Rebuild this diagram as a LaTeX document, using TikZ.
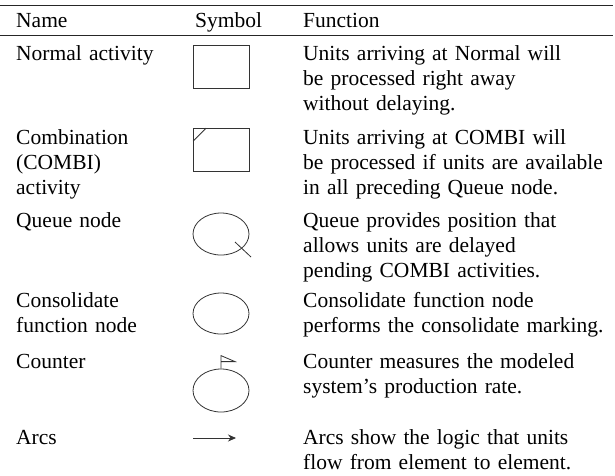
\documentclass[tikz,border=0pt]{standalone}
\usepackage{fontspec}
\setmainfont{Liberation Serif}
\usetikzlibrary{shapes.geometric,arrows.meta}
\tikzset{
  txt/.style={anchor=base west, inner sep=0pt, align=left, font=\fontsize{21.5}{25}\selectfont},
  namecol/.style={txt, text width=170pt},
  funccol/.style={txt, text width=305pt},
  rulebar/.style={line width=0.9pt, draw=black!85},
  sym/.style={draw=black!80, line width=0.8pt, inner sep=0pt},
  boxsym/.style={sym, rectangle, minimum width=56pt, minimum height=43pt},
  ellsym/.style={sym, ellipse, minimum width=56pt, minimum height=42pt},
  symline/.style={draw=black!80, line width=0.8pt},
}
\begin{document}
\begin{tikzpicture}[x=1pt,y=-1pt]
\useasboundingbox (0,0) rectangle (615,475);
% rules
\coordinate (r1a) at (0,5); \coordinate (r1b) at (613,5);
\coordinate (r2a) at (0,35.5); \coordinate (r2b) at (613,35.5);
\draw[rulebar] (r1a) -- (r1b);
\draw[rulebar] (r2a) -- (r2b);
% header
\node[txt] (hname) at (16,27) {Name};
\node[txt] (hsym) at (195,27) {Symbol};
\node[txt] (hfunc) at (303,27) {Function};
% row 1
\node[namecol] (n1) at (16,60) {Normal activity};
\node[boxsym] (s1) at (221,66.5) {};
\node[funccol] (f1) at (303,60) {Units arriving at Normal will\\be processed right away\\without delaying.};
% row 2
\node[namecol] (n2) at (16,144) {Combination\\(COMBI)\\activity};
\node[boxsym] (s2) at (221.5,150) {};
\coordinate (d2a) at ([yshift=-13pt]s2.north west);
\coordinate (d2b) at ([xshift=13pt]s2.north west);
\draw[symline] (d2a) -- (d2b);
\node[funccol] (f2) at (303,144) {Units arriving at COMBI will\\be processed if units are available\\in all preceding Queue node.};
% row 3
\node[namecol] (n3) at (16,227) {Queue node};
\node[ellsym] (s3) at (221,234) {};
\coordinate (q3a) at ([shift={(14pt,-8pt)}]s3.center);
\coordinate (q3b) at ([shift={(30pt,-23pt)}]s3.center);
\draw[symline] (q3a) -- (q3b);
\node[funccol] (f3) at (303,227) {Queue provides position that\\allows units are delayed\\pending COMBI activities.};
% row 4
\node[namecol] (n4) at (16,307) {Consolidate\\function node};
\node[ellsym, minimum height=41pt] (s4) at (221,313.5) {};
\node[funccol] (f4) at (303,307) {Consolidate function node\\performs the consolidate marking.};
% row 5
\node[namecol] (n5) at (16,368) {Counter};
\node[ellsym, minimum height=43pt] (s5) at (221,390.5) {};
\coordinate (p5top) at ([yshift=13pt]s5.north);
\coordinate (p5mid) at ([yshift=7pt]s5.north);
\coordinate (p5tip) at ([shift={(14pt,7pt)}]s5.north);
\draw[symline] (s5.north) -- (p5top) -- (p5tip) -- (p5mid);
\node[funccol] (f5) at (303,368) {Counter measures the modeled\\system’s production rate.};
% row 6
\node[namecol] (n6) at (16,444) {Arcs};
\coordinate (a6a) at (193,438);
\coordinate (a6b) at (236,438);
\draw[symline, -{Stealth[length=8pt,width=7pt]}] (a6a) -- (a6b);
\node[funccol] (f6) at (303,444) {Arcs show the logic that units\\flow from element to element.};
\end{tikzpicture}
\end{document}
